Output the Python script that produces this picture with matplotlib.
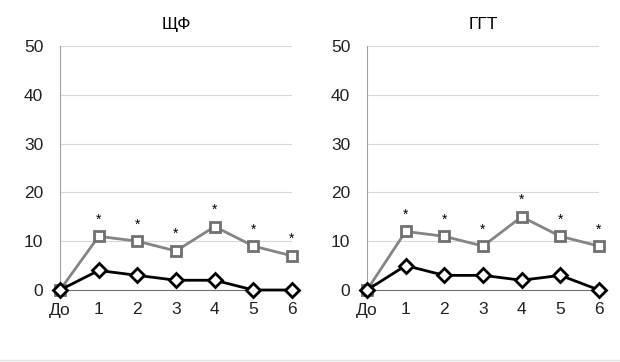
import matplotlib.pyplot as plt

# Data
x_labels = ["До", "1", "2", "3", "4", "5", "6"]
titles = ["ЩФ", "ГГТ"]
gray_shf = [0, 11, 10, 8, 13, 9, 7]
black_shf = [0, 4, 3, 2, 2, 0, 0]
gray_ggt = [0, 12, 11, 9, 15, 11, 9]
black_ggt = [0, 5, 3, 3, 2, 3, 0]

plt.rcParams["font.family"] = ["Liberation Sans", "DejaVu Sans"]

fig = plt.figure(figsize=(6.2, 3.62), dpi=100)
axes = [fig.add_axes([60 / 620, 1 - 290 / 362, 232 / 620, 244 / 362]),
        fig.add_axes([367 / 620, 1 - 290 / 362, 232 / 620, 244 / 362])]

for ax, title, g, b in zip(axes, titles, [gray_shf, gray_ggt], [black_shf, black_ggt]):
    xs = list(range(len(x_labels)))
    ax.set_xlim(0, 6)
    ax.set_ylim(0, 50)
    ax.set_yticks([0, 10, 20, 30, 40, 50])
    ax.grid(axis="y", color="#d8d8d8", linewidth=0.8)
    ax.set_axisbelow(True)
    for s in ["top", "right"]:
        ax.spines[s].set_visible(False)
    ax.spines["left"].set_color("#a0a0a0")
    ax.spines["bottom"].set_color("#707070")
    ax.tick_params(length=0, labelsize=12.5, colors="#222222")
    ax.tick_params(axis="y", pad=12)
    ax.tick_params(axis="x", pad=9)
    ax.set_xticks(xs)
    ax.set_xticklabels(x_labels)

    ax.plot(xs, g, color="#858585", linewidth=2, marker="s", markersize=7,
            markerfacecolor="white", markeredgecolor="#707070", markeredgewidth=2,
            clip_on=False, zorder=3)
    ax.plot(xs, b, color="black", linewidth=2, marker="D", markersize=7,
            markerfacecolor="white", markeredgecolor="black", markeredgewidth=2,
            clip_on=False, zorder=4)
    for xi, v in zip(xs[1:], g[1:]):
        ax.text(xi, v + 2.0, "*", ha="center", va="bottom", fontsize=10)
    ax.set_title(title, fontsize=12.5, pad=12)

fig.add_artist(plt.Line2D([0, 1], [2 / 362, 2 / 362], color="#e0e0e0", linewidth=1))
plt.savefig("out.png", dpi=100)
